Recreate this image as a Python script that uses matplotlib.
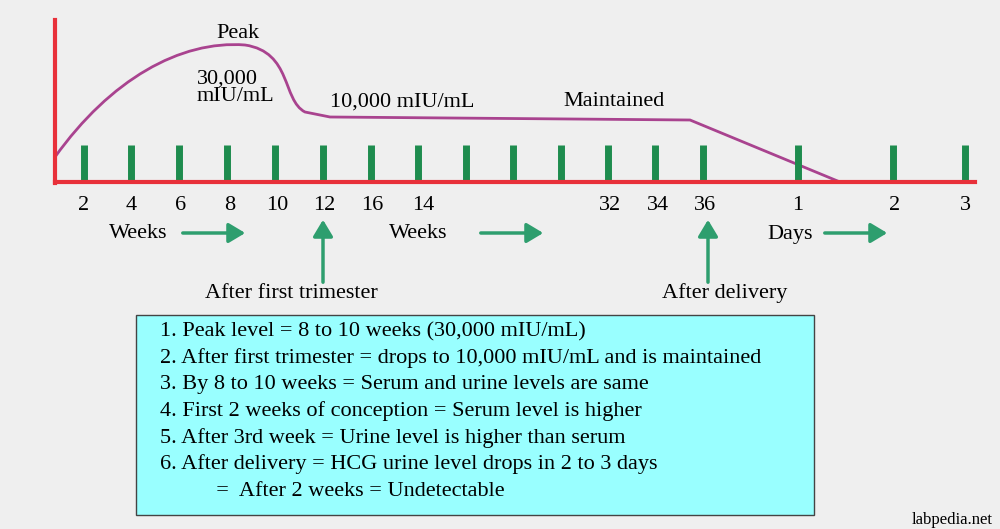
import matplotlib
matplotlib.use("Agg")
import matplotlib.pyplot as plt
from matplotlib.path import Path
from matplotlib.patches import PathPatch, FancyArrowPatch, Rectangle

plt.rcParams['font.family'] = ['Liberation Serif', 'DejaVu Serif']

tick_x = [84, 131, 179, 227, 275, 323, 371, 418, 466, 513, 561, 608, 655, 703, 798, 893, 965]
label_x = [84, 131, 181, 230, 277, 324, 372, 423, 610, 658, 705, 798, 895, 965]
tick_labels = ["2", "4", "6", "8", "10", "12", "16", "14", "32", "34", "36", "1", "2", "3"]
curve_verts = [(55, 157), (110, 80), (180, 40), (245, 45),
               (292, 52), (282, 100), (305, 112), (330, 117),
               (690, 120), (840, 182), (975, 182)]
notes = ["1. Peak level = 8 to 10 weeks (30,000 mIU/mL)",
         "2. After first trimester = drops to 10,000 mIU/mL and is maintained",
         "3. By 8 to 10 weeks = Serum and urine levels are same",
         "4. First 2 weeks of conception = Serum level is higher",
         "5. After 3rd week = Urine level is higher than serum",
         "6. After delivery = HCG urine level drops in 2 to 3 days",
         "          =  After 2 weeks = Undetectable"]

fig = plt.figure(figsize=(10, 5.29), dpi=100)
fig.patch.set_facecolor('#efefef')
ax = fig.add_axes([0, 0, 1, 1])
ax.set_xlim(0, 1000); ax.set_ylim(529, 0); ax.axis('off')

red = '#e8303a'; green = '#1e8c4e'; arrowg = '#2e9e6e'; purple = '#a9438f'
for x in tick_x:
    ax.plot([x, x], [145, 182], color=green, lw=5, solid_capstyle='butt')
ax.plot([55, 55], [20, 183], color=red, lw=3)
ax.plot([55, 975], [182, 182], color=red, lw=3)

codes = [Path.MOVETO, Path.CURVE4, Path.CURVE4, Path.CURVE4,
         Path.CURVE4, Path.CURVE4, Path.CURVE4, Path.LINETO,
         Path.LINETO, Path.LINETO, Path.LINETO]
ax.add_patch(PathPatch(Path(curve_verts, codes), fill=False, color=purple, lw=2))

fs = 16
for x, t in zip(label_x, tick_labels):
    ax.text(x, 205, t, ha='center', va='center', fontsize=fs)

ax.text(238, 33, "Peak", ha='center', va='center', fontsize=fs)
ax.text(197, 88, "30,000\nmIU/mL", ha='left', va='center', fontsize=fs, linespacing=0.9)
ax.text(330, 102, "10,000 mIU/mL", ha='left', va='center', fontsize=fs)
ax.text(563, 102, "Maintained", ha='left', va='center', fontsize=fs)
ax.text(138, 234, "Weeks", ha='center', va='center', fontsize=fs)
ax.text(418, 234, "Weeks", ha='center', va='center', fontsize=fs)
ax.text(790, 234, "Days", ha='center', va='center', fontsize=fs)
ax.text(291, 293, "After first trimester", ha='center', va='center', fontsize=fs)
ax.text(725, 293, "After delivery", ha='center', va='center', fontsize=fs)

def arr(p0, p1):
    ax.add_patch(FancyArrowPatch(p0, p1, arrowstyle='-|>,head_length=10,head_width=6',
                                 color=arrowg, lw=2.5, mutation_scale=1))
arr((180, 233), (248, 233)); arr((478, 233), (546, 233)); arr((822, 233), (890, 233))
arr((323, 285), (323, 217)); arr((708, 285), (708, 217))

ax.add_patch(Rectangle((136, 315), 678, 200, facecolor='#99ffff', edgecolor='#444444', lw=1))
for i, n in enumerate(notes):
    ax.text(160, 332 + i * 26.5, n, ha='left', va='center', fontsize=fs)

ax.text(993, 520, "labpedia.net", ha='right', va='center', fontsize=12)
fig.savefig("out.png", dpi=100, facecolor=fig.get_facecolor())
